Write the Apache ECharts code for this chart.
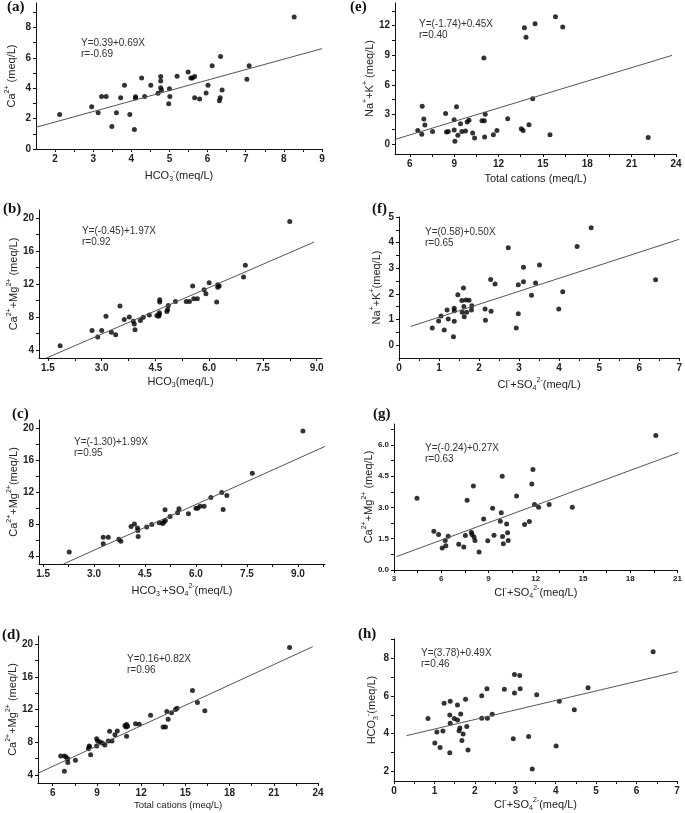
<!DOCTYPE html>
<html><head><meta charset="utf-8">
<script src="https://cdn.jsdelivr.net/npm/echarts@6/dist/echarts.min.js"></script>
<style>html,body{margin:0;padding:0;background:#fff}#c{width:685px;height:813px}</style>
</head><body><div id="c"></div>
<script>
// ---------- Panel (a): HCO3- vs Ca2+ ----------
const aX = [2.12,2.96,3.13,3.22,3.34,3.49,3.61,3.72,3.82,3.96,4.08,4.11,4.11,4.27,4.35,4.51,4.70,4.77,4.77,4.77,4.79,4.98,5.00,5.01,5.20,5.49,5.56,5.60,5.66,5.66,5.79,5.96,6.01,6.12,6.31,6.33,6.34,6.38,7.03,7.09,8.27];
const aY = [2.27,2.78,2.38,3.46,3.46,1.48,2.38,3.37,4.19,2.27,1.28,3.44,3.35,4.67,3.46,4.19,3.66,4.76,4.47,4.03,3.88,2.97,3.96,3.46,4.78,5.07,4.67,4.67,4.76,3.37,3.28,3.68,4.19,5.48,3.17,3.37,6.08,3.88,4.58,5.48,8.68];
const aFitX = [1.5, 9.0], aFitY = [1.43, 6.60];
const aXTicks = [2,3,4,5,6,7,8,9], aXMinor = [2.5,3.5,4.5,5.5,6.5,7.5,8.5];
const aYTicks = [0,2,4,6,8], aYMinor = [1,3,5,7,9];
const aEq = ['Y=0.39+0.69X', 'r=-0.69'];

// ---------- Panel (b) ----------
const bX = [1.84,2.73,2.89,3.00,3.12,3.27,3.39,3.51,3.63,3.77,3.88,3.91,3.93,4.08,4.16,4.33,4.54,4.61,4.61,4.62,4.62,4.59,4.82,4.84,4.86,5.06,5.36,5.45,5.54,5.57,5.67,5.86,5.91,6.00,6.21,6.24,6.24,6.28,6.96,7.01,8.25];
const bY = [4.49,6.33,5.55,6.33,8.08,6.12,5.84,9.31,7.67,8.00,7.47,7.14,6.45,7.55,7.96,8.24,8.16,8.29,8.49,10.08,9.80,8.08,8.65,8.90,9.39,9.88,9.88,9.88,11.76,10.20,10.20,11.31,10.82,12.16,9.80,11.92,11.59,11.76,12.86,14.29,19.60];
const bFitX = [1.46, 8.93], bFitY = [3.0, 17.1];
const bXTicks = [1.5,3.0,4.5,6.0,7.5,9.0], bXMinor = [2.25,3.75,5.25,6.75,8.25];
const bYTicks = [4,8,12,16,20], bYMinor = [6,10,14,18];
const bEq = ['Y=(-0.45)+1.97X', 'r=0.92'];

// ---------- Panel (c) ----------
const cX = [2.27,3.27,3.27,3.42,3.73,3.79,4.09,4.19,4.28,4.29,4.30,4.55,4.70,4.92,5.02,5.06,5.10,5.09,5.24,5.46,5.50,5.78,6.00,6.05,6.12,6.24,6.44,6.76,6.80,6.91,7.66,9.15];
const cY = [4.50,6.33,5.54,6.33,6.08,5.83,7.70,7.99,7.49,7.20,6.45,7.62,7.95,8.16,8.07,8.24,8.45,9.78,8.95,9.40,9.90,9.28,9.98,9.98,10.23,10.23,11.31,11.94,9.82,11.56,14.35,19.62];
const cFitX = [2.1, 9.8], cFitY = [3.0, 17.7];
const cXTicks = [1.5,3.0,4.5,6.0,7.5,9.0], cXMinor = [2.25,3.75,5.25,6.75,8.25,9.75];
const cYTicks = [4,8,12,16,20], cYMinor = [6,10,14,18];
const cEq = ['Y=(-1.30)+1.99X', 'r=0.95'];

// ---------- Panel (d) ----------
const dX = [6.54,6.79,6.79,6.90,7.02,7.02,7.54,8.42,8.48,8.48,8.57,8.98,8.98,9.05,9.21,9.36,9.54,9.77,9.86,10.02,10.22,10.38,10.90,10.97,11.01,11.08,11.01,11.62,11.87,12.64,13.49,13.65,13.74,13.83,14.06,14.33,14.44,15.48,15.82,16.32,22.07];
const dY = [6.30,6.30,4.45,6.17,5.52,5.97,5.80,7.20,7.40,7.53,6.46,7.53,8.43,8.14,8.02,7.90,7.65,8.14,9.33,8.14,8.92,9.37,10.03,9.86,10.15,9.95,8.71,10.27,10.19,11.30,9.86,9.86,11.75,10.81,11.59,12.00,12.16,14.34,12.86,11.84,19.59];
const dFitX = [5.0, 23.65], dFitY = [4.2, 19.7];
const dXTicks = [6,9,12,15,18,21,24], dXMinor = [7.5,10.5,13.5,16.5,19.5,22.5];
const dYTicks = [4,8,12,16,20], dYMinor = [6,10,14,18];
const dEq = ['Y=0.16+0.82X', 'r=0.96'];

// ---------- Panel (e) ----------
const eX = [6.54,6.81,6.84,6.95,7.02,7.54,8.42,8.48,8.60,9.00,9.00,9.05,9.16,9.25,9.43,9.52,9.77,9.88,10.00,10.25,10.38,10.88,11.01,11.04,11.06,11.10,11.65,11.89,12.62,13.54,13.66,13.75,13.86,14.06,14.31,14.47,15.48,15.85,16.34,22.12];
const eY = [1.39,1.01,3.85,2.54,1.93,1.28,3.11,1.22,1.28,2.47,1.42,0.30,3.79,0.91,2.06,1.28,1.32,2.23,2.43,1.12,0.61,2.37,8.72,2.37,0.71,3.04,0.95,1.39,2.57,1.56,1.39,11.80,10.82,1.96,4.60,12.20,0.95,12.91,11.87,0.68];
const eFitX = [4.98, 23.73], eFitY = [0.47, 8.99];
const eXTicks = [6,9,12,15,18,21,24], eXMinor = [7.5,10.5,13.5,16.5,19.5,22.5];
const eYTicks = [0,3,6,9,12], eYMinor = [1.5,4.5,7.5,10.5,13.5];
const eEq = ['Y=(-1.74)+0.45X', 'r=0.40'];

// ---------- Panel (f) ----------
const fX = [0.83,0.99,1.05,1.13,1.20,1.23,1.36,1.38,1.38,1.38,1.47,1.57,1.58,1.61,1.62,1.63,1.67,1.69,1.75,1.81,1.82,2.15,2.16,2.29,2.30,2.40,2.73,2.93,2.98,2.98,3.11,3.11,3.31,3.41,3.51,3.99,4.09,4.45,4.80,6.41];
const fY = [0.67,0.94,1.14,0.59,1.37,1.02,0.33,1.34,1.44,0.93,1.97,1.74,1.28,2.23,1.51,1.11,1.76,1.28,1.75,1.37,1.54,1.41,0.97,2.56,1.32,2.39,3.80,0.67,2.36,1.23,3.04,2.47,1.95,2.43,3.13,1.41,2.08,3.85,4.58,2.55];
const fFitX = [0.29, 7.0], fFitY = [0.73, 4.13];
const fXTicks = [0,1,2,3,4,5,6,7], fXMinor = [0.5,1.5,2.5,3.5,4.5,5.5,6.5];
const fYTicks = [0,1,2,3,4,5], fYMinor = [0.5,1.5,2.5,3.5,4.5];
const fEq = ['Y=(0.58)+0.50X', 'r=0.65'];

// ---------- Panel (g) ----------
const gX = [4.46,5.53,5.83,6.06,6.25,6.29,6.44,7.11,7.43,7.53,7.64,7.91,7.95,8.04,8.08,8.14,8.40,8.69,8.95,9.26,9.35,9.75,9.81,9.87,9.89,9.94,10.15,10.21,10.25,10.78,11.29,11.59,11.75,11.82,11.92,12.18,12.85,14.32,19.62];
const gY = [3.44,1.86,1.70,1.05,1.42,1.16,1.62,1.24,1.10,1.66,3.34,1.81,1.70,4.03,1.58,1.42,0.86,2.44,1.40,2.96,1.67,2.34,2.75,4.49,1.61,1.26,2.20,1.78,1.42,3.55,2.18,2.32,4.12,4.82,3.14,3.01,3.14,3.01,6.45];
const gFitX = [3.15, 21.07], gFitY = [0.64, 5.63];
const gXTicks = [3,6,9,12,15,18,21], gXMinor = [4.5,7.5,10.5,13.5,16.5,19.5];
const gYTicks = [0,1.5,3.0,4.5,6.0], gYMinor = [0.75,2.25,3.75,5.25,6.75];
const gEq = ['Y=(-0.24)+0.27X', 'r=0.63'];

// ---------- Panel (h) ----------
const hX = [0.84,1.01,1.06,1.14,1.21,1.24,1.38,1.38,1.39,1.39,1.49,1.57,1.57,1.61,1.63,1.65,1.68,1.71,1.77,1.80,1.83,2.17,2.17,2.30,2.31,2.43,2.73,2.95,2.98,2.98,3.11,3.12,3.33,3.42,3.53,4.01,4.09,4.46,4.80,6.41];
const hY = [4.80,3.51,4.09,3.27,4.15,5.61,2.99,4.99,5.71,4.55,4.80,4.73,5.52,4.16,4.30,5.04,3.64,3.99,5.82,4.38,3.14,6.01,4.82,6.38,4.82,5.03,6.35,3.74,7.12,6.15,7.07,6.38,3.85,2.14,6.06,3.35,5.71,5.26,6.43,8.33];
const hFitX = [0.31, 7.03], hFitY = [3.90, 7.28];
const hXTicks = [0,1,2,3,4,5,6,7], hXMinor = [0.5,1.5,2.5,3.5,4.5,5.5,6.5];
const hYTicks = [2,4,6,8], hYMinor = [3,5,7,9];
const hEq = ['Y=(3.78)+0.49X', 'r=0.46'];

const panelLetters = ['(a)','(b)','(c)','(d)','(e)','(f)','(g)','(h)'];

// axis names (rich text for super/subscripts)
const xNames = [
  '{t|HCO}{sb|3}{sp|-}{t|(meq/L)}',
  '{t|HCO}{sb|3}{t|(meq/L)}',
  '{t|HCO}{sb|3}{sp|-}{t|+SO}{sb|4}{sp|2-}{t|(meq/L)}',
  '{ts|Total cations (meq/L)}',
  '{t|Total cations (meq/L)}',
  '{t|Cl}{sp|-}{t|+SO}{sb|4}{sp|2-}{t|(meq/L)}',
  '{t|Cl}{sp|-}{t|+SO}{sb|4}{sp|2-}{t|(meq/L)}',
  '{t|Cl}{sp|-}{t|+SO}{sb|4}{sp|2-}{t|(meq/L)}'
];
const yNames = [
  '{t|Ca}{sp|2+}{t| (meq/L)}',
  '{t|Ca}{sp|2+}{t|+Mg}{sp|2+}{t| (meq/L)}',
  '{t|Ca}{sp|2+}{t|+Mg}{sp|2+}{t|(meq/L)}',
  '{t|Ca}{sp|2+}{t|+Mg}{sp|2+}{t| (meq/L)}',
  '{t|Na}{sp|+}{t|+K}{sp|+}{t| (meq/L)}',
  '{t|Na}{sp|+}{t|+K}{sp|+}{t|(meq/L)}',
  '{t|Ca}{sp|2+}{t|+Mg}{sp|2+}{t| (meq/L)}',
  '{t|HCO}{sb|3}{sp|-}{t|(meq/L)}'
];

// ---------- layout (pixels) ----------
const FONT = 'Liberation Sans';
const layout = [
  {grid:{left:36,top:3,width:286,height:146},  xr:[1.5,9.0],   yr:[0,9.6],   xg:19, yg:17, title:[7,8],   eq:[81,38],  xdec:0, ydec:0, lab:10},
  {grid:{left:39,top:210,width:283,height:148},xr:[1.25,9.15], yr:[3,21],    xg:16, yg:15, title:[3,210], eq:[82,226], xdec:1, ydec:0, lab:10},
  {grid:{left:39,top:420,width:286,height:144},xr:[1.38,9.8],  yr:[3,21],    xg:19, yg:15, title:[12,415],eq:[74,437], xdec:1, ydec:0, lab:10},
  {grid:{left:38,top:636,width:280,height:147},xr:[5,24],      yr:[3,21],    xg:15, yg:16, title:[2,636], eq:[127,654],xdec:0, ydec:0, lab:10},
  {grid:{left:395,top:3,width:281,height:151}, xr:[5,24],      yr:[-1,14.3], xg:17, yg:15, title:[350,8], eq:[419,19], xdec:0, ydec:0, lab:10},
  {grid:{left:399,top:217,width:282,height:141},xr:[0,7],      yr:[-0.5,5],  xg:19, yg:15, title:[372,210],eq:[425,227],xdec:0, ydec:0, lab:10},
  {grid:{left:394,top:424,width:285,height:146},xr:[3,21],     yr:[0,7],     xg:15, yg:9,  title:[373,415],eq:[425,443],xdec:0, ydec:1, lab:8},
  {grid:{left:394,top:639,width:283,height:143},xr:[0,7],      yr:[1.5,9],   xg:14, yg:14, title:[358,635],eq:[421,648],xdec:0, ydec:0, lab:10}
];

const PX = [aX,bX,cX,dX,eX,fX,gX,hX], PY = [aY,bY,cY,dY,eY,fY,gY,hY];
const FX = [aFitX,bFitX,cFitX,dFitX,eFitX,fFitX,gFitX,hFitX], FY = [aFitY,bFitY,cFitY,dFitY,eFitY,fFitY,gFitY,hFitY];
const XT = [aXTicks,bXTicks,cXTicks,dXTicks,eXTicks,fXTicks,gXTicks,hXTicks];
const XM = [aXMinor,bXMinor,cXMinor,dXMinor,eXMinor,fXMinor,gXMinor,hXMinor];
const YT = [aYTicks,bYTicks,cYTicks,dYTicks,eYTicks,fYTicks,gYTicks,hYTicks];
const YM = [aYMinor,bYMinor,cYMinor,dYMinor,eYMinor,fYMinor,gYMinor,hYMinor];
const EQ = [aEq,bEq,cEq,dEq,eEq,fEq,gEq,hEq];

const rich = {
  t:  {fontFamily:FONT, fontSize:11, color:'#222', lineHeight:15},
  ts: {fontFamily:FONT, fontSize:9.5, color:'#222', lineHeight:15},
  sp: {fontFamily:FONT, fontSize:7, color:'#222', verticalAlign:'top', lineHeight:8},
  sb: {fontFamily:FONT, fontSize:7, color:'#222', verticalAlign:'bottom', lineHeight:8}
};

const grids = [], xAxes = [], yAxes = [], series = [], graphics = [];
layout.forEach((L, i) => {
  grids.push(L.grid);
  const inside = (i >= 5);
  const axLine = {show:true, onZero:false, lineStyle:{color:'#111', width:1}};
  xAxes.push({
    type:'value', gridIndex:i, min:L.xr[0], max:L.xr[1],
    axisLine: axLine,
    axisTick:{show:true, length:3, customValues: XT[i].concat(XM[i]), lineStyle:{color:'#111'}},
    axisLabel:{show:true, customValues: XT[i], margin:5, fontFamily:FONT, fontSize:L.lab, fontWeight:'bold', color:'#222',
      formatter: v => Number(v).toFixed(L.xdec)},
    splitLine:{show:false},
    name: xNames[i], nameLocation:'middle', nameGap:L.xg,
    nameTextStyle:{rich: rich}
  });
  yAxes.push({
    type:'value', gridIndex:i, min:L.yr[0], max:L.yr[1],
    axisLine: axLine,
    axisTick:{show:true, length:3, customValues: YT[i].concat(YM[i]), lineStyle:{color:'#111'}},
    axisLabel:{show:true, customValues: YT[i], margin:5, fontFamily:FONT, fontSize:L.lab, fontWeight:'bold', color:'#222',
      formatter: v => Number(v).toFixed(L.ydec)},
    splitLine:{show:false},
    name: yNames[i], nameLocation:'middle', nameGap:L.yg,
    nameTextStyle:{rich: rich}
  });
  series.push({
    type:'scatter', xAxisIndex:i, yAxisIndex:i, symbol:'circle', symbolSize:5,
    itemStyle:{color:'#000'}, silent:true,
    data: PX[i].map((x, k) => [x, PY[i][k]])
  });
  series.push({
    type:'line', xAxisIndex:i, yAxisIndex:i, symbol:'none', silent:true,
    lineStyle:{color:'#555', width:1},
    data: FX[i].map((x, k) => [x, FY[i][k]])
  });
  graphics.push({type:'text', left:L.title[0], top:L.title[1]-8,
    style:{text:panelLetters[i], font:'bold 15px "Liberation Serif"', fill:'#111'}});
  graphics.push({type:'text', left:L.eq[0], top:L.eq[1],
    style:{text:EQ[i].join('\n'), font:'10px "Liberation Sans"', fill:'#333', lineHeight:10.5}});
});

const chart = echarts.init(document.getElementById('c'), null, {renderer:'canvas'});
chart.setOption({
  animation:false, backgroundColor:'#fff',
  grid: grids, xAxis: xAxes, yAxis: yAxes, series: series, graphic: graphics
});
</script>
</body></html>
